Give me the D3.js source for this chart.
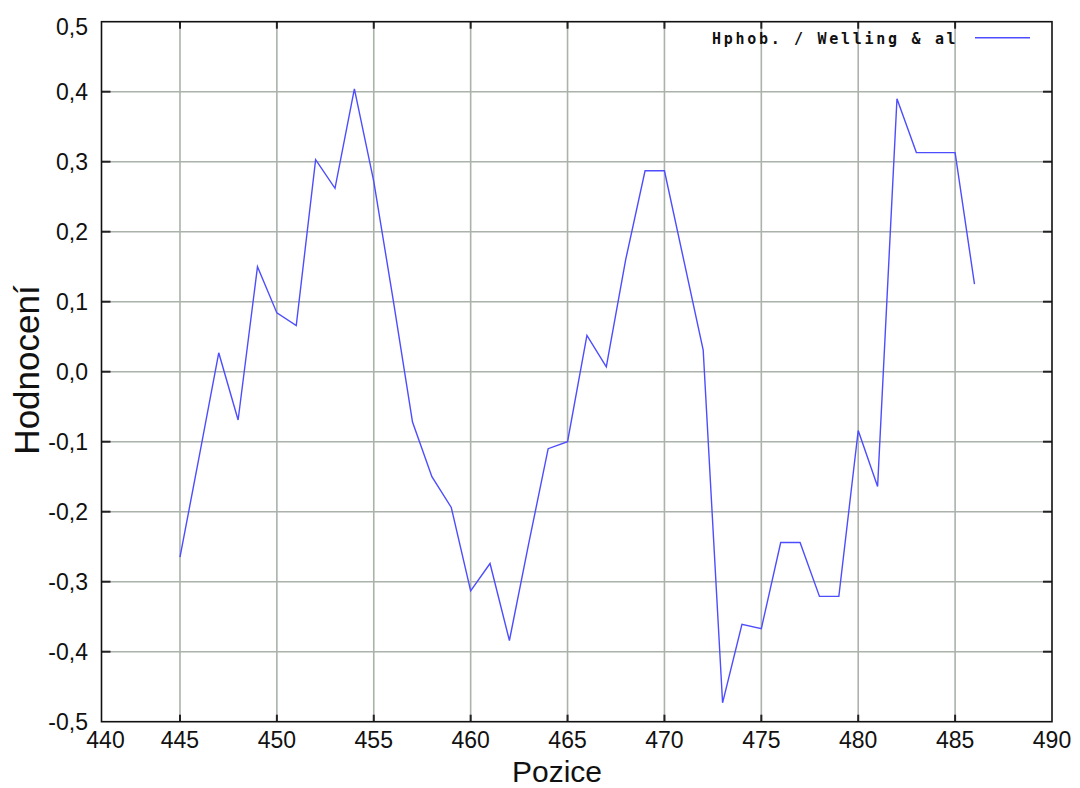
<!DOCTYPE html>
<html>
<head>
<meta charset="utf-8">
<script src="https://cdn.jsdelivr.net/npm/d3@7"></script>
<style>
  body { margin: 0; background: #fff; }
  svg { display: block; font-family: "Liberation Sans", Arial, sans-serif; }
</style>
</head>
<body>
<svg id="chart" width="1080" height="788"></svg>
<script>
// data
const positions = [445, 446, 447, 448, 449, 450, 451, 452, 453, 454, 455, 456, 457, 458,
  459, 460, 461, 462, 463, 464, 465, 466, 467, 468, 469, 470, 471, 472, 473, 474, 475,
  476, 477, 478, 479, 480, 481, 482, 483, 484, 485, 486];
const scores = [-0.265, -0.12, 0.027, -0.069, 0.150, 0.084, 0.066, 0.303, 0.262, 0.404,
  0.272, 0.103, -0.072, -0.150, -0.194, -0.313, -0.274, -0.384, -0.245, -0.110, -0.100,
  0.052, 0.007, 0.160, 0.287, 0.287, 0.159, 0.031, -0.473, -0.361, -0.367, -0.244,
  -0.244, -0.321, -0.321, -0.084, -0.164, 0.390, 0.313, 0.313, 0.313, 0.125];
const xTicks = [445, 450, 455, 460, 465, 470, 475, 480, 485, 490];
const yTicks = [-0.5, -0.4, -0.3, -0.2, -0.1, 0, 0.1, 0.2, 0.3, 0.4, 0.5];
const xStart = 440.95; // axis starts a bit after 440 but is labelled 440
const seriesName = 'Hphob. / Welling & al';

const plotL = 101.5, plotR = 1052, plotT = 21.7, plotB = 721.7;
const svg = d3.select('#chart');

const x = d3.scaleLinear().domain([xStart, 490]).range([plotL, plotR]);
const y = d3.scaleLinear().domain([-0.5, 0.5]).range([plotB, plotT]);
const fmt = v => d3.format('.1f')(v).replace('.', ',').replace('−', '-');

const grid = svg.append('g')
  .attr('stroke', '#aab2aa')
  .attr('stroke-width', 1.6);

grid.selectAll('.vg')
  .data(xTicks.filter(d => d < 490))
  .enter().append('line')
  .attr('x1', d => x(d)).attr('x2', d => x(d))
  .attr('y1', plotT).attr('y2', plotB);

grid.selectAll('.hg')
  .data(yTicks.filter(d => d > -0.5 && d < 0.5))
  .enter().append('line')
  .attr('x1', plotL).attr('x2', plotR)
  .attr('y1', d => y(d)).attr('y2', d => y(d));

// inner tick marks on all four sides
const ticks = svg.append('g').attr('stroke', '#222').attr('stroke-width', 2);
xTicks.filter(d => d < 490).forEach(d => {
  ticks.append('line').attr('x1', x(d)).attr('x2', x(d)).attr('y1', plotT).attr('y2', plotT + 7);
  ticks.append('line').attr('x1', x(d)).attr('x2', x(d)).attr('y1', plotB).attr('y2', plotB - 7);
});
yTicks.filter(d => d > -0.5 && d < 0.5).forEach(d => {
  ticks.append('line').attr('x1', plotL).attr('x2', plotL + 9).attr('y1', y(d)).attr('y2', y(d));
  ticks.append('line').attr('x1', plotR).attr('x2', plotR - 9).attr('y1', y(d)).attr('y2', y(d));
});

svg.append('rect')
  .attr('x', plotL).attr('y', plotT)
  .attr('width', plotR - plotL).attr('height', plotB - plotT)
  .attr('fill', 'none').attr('stroke', '#111').attr('stroke-width', 1.6);

// x tick labels
svg.append('g').selectAll('text')
  .data([xStart].concat(xTicks))
  .enter().append('text')
  .attr('x', (d, i) => i === 0 ? x(d) + 4 : x(d))
  .attr('y', 748)
  .attr('text-anchor', 'middle')
  .attr('font-size', 23)
  .attr('fill', '#111')
  .text((d, i) => i === 0 ? '440' : d);

// y tick labels
svg.append('g').selectAll('text')
  .data(yTicks)
  .enter().append('text')
  .attr('x', 88)
  .attr('y', d => d === 0.5 ? y(d) + 5 : y(d))
  .attr('dy', '0.36em')
  .attr('text-anchor', 'end')
  .attr('font-size', 23)
  .attr('fill', '#111')
  .text(fmt);

svg.append('text')
  .attr('x', 557).attr('y', 782)
  .attr('text-anchor', 'middle')
  .attr('font-size', 30)
  .attr('fill', '#111')
  .text('Pozice');

svg.append('text')
  .attr('transform', 'translate(39,370) rotate(-90)')
  .attr('text-anchor', 'middle')
  .attr('font-size', 35)
  .attr('fill', '#111')
  .text('Hodnocení');

const line = d3.line()
  .x((d, i) => x(positions[i]))
  .y(d => y(d));

svg.append('path')
  .datum(scores)
  .attr('d', line)
  .attr('fill', 'none')
  .attr('stroke', '#4d4dff')
  .attr('stroke-width', 1.4);

// legend
svg.append('text')
  .attr('x', 712).attr('y', 44)
  .attr('font-family', '"DejaVu Sans Mono", monospace')
  .attr('font-size', 15)
  .attr('font-weight', 'bold')
  .attr('letter-spacing', '2.7px')
  .attr('fill', '#111')
  .text(seriesName);

svg.append('line')
  .attr('x1', 975).attr('x2', 1030)
  .attr('y1', 37.7).attr('y2', 37.7)
  .attr('stroke', '#4d4dff')
  .attr('stroke-width', 1.4);
</script>
</body>
</html>
